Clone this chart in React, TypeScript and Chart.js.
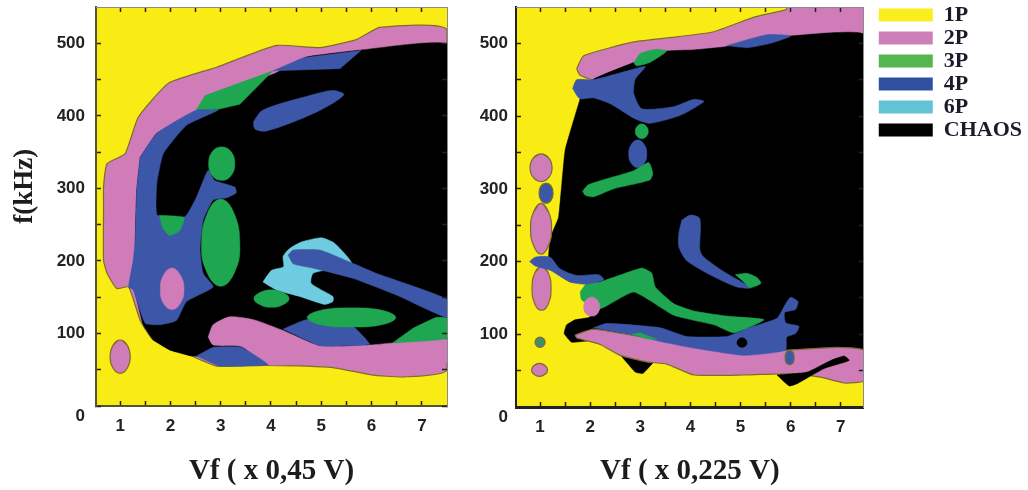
import React, { useEffect, useRef } from "react";
import { Chart, registerables } from "chart.js";

Chart.register(...registerables);

type P = [number, number];

const LEGEND_LABELS = ["1P", "2P", "3P", "4P", "6P", "CHAOS"];
const LEGEND_COLORS = ["#fbee1d", "#cd80b8", "#55b54f", "#31509f", "#62c3d5", "#000000"];
const YELLOW = "#f8ec14";
const PINK = "#cf7cb9";
const GREEN = "#1ea650";
const BLUE = "#3c57a8";
const CYAN = "#6fcbe0";
const BLACK = "#000000";
const OLIVE = "#7d6c2e";

const X_TICKS = [1, 1.5, 2, 2.5, 3, 3.5, 4, 4.5, 5, 5.5, 6, 6.5, 7];
const Y_TICKS = [0, 50, 100, 150, 200, 250, 300, 350, 400, 450, 500];

// ---------- Left panel ----------
const L_BG: P[] = [[0.52, 0], [7.5, 0], [7.5, 550], [0.52, 550]];
const L_2P_OUTER: P[] = [[0.67, 275], [0.67, 302], [0.74, 334], [1.1, 348], [1.36, 398], [1.96, 445], [2.92, 467], [4.11, 497], [4.97, 494], [5.7, 505], [6.16, 522], [7.5, 518], [7.5, 50], [6.62, 40], [5.99, 43], [5.23, 53], [3.91, 56], [2.92, 55], [2.39, 70], [1.66, 91], [1.4, 118], [1.17, 164], [0.93, 162], [0.74, 183], [0.67, 201]];
const L_CHAOS: P[] = [[1.4, 343], [1.73, 376], [2.52, 406], [2.75, 422], [4.1, 459], [4.7, 481], [5.83, 491], [7.5, 498], [7.5, 82], [3.91, 72], [2.85, 68], [2.42, 69], [1.99, 77], [1.66, 91], [1.46, 112], [1.26, 169], [1.3, 201], [1.3, 229], [1.33, 297]];
const L_2P_STRIP: P[] = [[2.75, 95], [2.85, 112], [3.18, 123], [3.65, 119], [4.24, 104], [4.97, 83], [5.96, 84], [6.42, 87], [7.5, 92], [7.5, 60], [5, 60], [3.94, 57], [3.41, 82], [2.85, 84]];
const L_4P_MAIN: P[] = [[1.4, 343], [1.73, 376], [2.52, 408], [2.95, 408], [2.32, 387], [1.86, 348], [1.73, 307], [1.74, 263], [2.29, 261], [2.52, 288], [2.75, 325], [2.88, 311], [3.28, 302], [3.31, 294], [3.12, 287], [2.85, 284], [2.65, 256], [2.59, 215], [2.65, 183], [2.85, 164], [2.32, 144], [2.12, 118], [1.79, 112], [1.5, 114], [1.26, 160], [1.17, 164], [1.26, 201], [1.3, 228], [1.33, 297]];
const L_4P_TOP: P[] = [[4.04, 462], [4.64, 480], [5.79, 490], [5.37, 465]];
const L_4P_STREAK: P[] = [[3.65, 392], [3.84, 408], [4.77, 428], [5.23, 435], [5.45, 429], [4.9, 405], [3.91, 379], [3.68, 382]];
const L_4P_LOW: P[] = [[2.52, 69], [2.85, 81], [3.41, 81], [3.94, 57], [2.98, 55]];
const L_4P_MID: P[] = [[4.24, 106], [4.7, 119], [5.63, 110], [5.96, 85], [4.97, 83]];
const L_6P: P[] = [[3.84, 171], [4.01, 187], [4.25, 192], [4.24, 206], [4.37, 217], [4.6, 226], [5, 232], [5.23, 226], [5.4, 215], [5.6, 196], [4.84, 183], [4.8, 169], [5.23, 151], [5.23, 144], [5.07, 140], [4.57, 151], [4.11, 160]];
const L_4P_LONG: P[] = [[4.34, 208], [4.44, 215], [4.97, 215], [5.65, 196], [6.09, 183], [7.5, 147], [7.5, 122], [6.56, 151], [5.63, 176], [4.84, 190], [4.44, 196]];
const L_3P_WEDGE: P[] = [[2.52, 409], [2.69, 428], [4.04, 462], [3.38, 416], [2.95, 409]];
const L_3P_OVAL: P[] = [[3.02, 357], [3.2, 351], [3.28, 334], [3.2, 317], [3.02, 311], [2.84, 317], [2.76, 334], [2.84, 351]];
const L_3P_BIG: P[] = [[3, 285], [3.25, 268], [3.38, 225], [3.28, 185], [3, 165], [2.72, 185], [2.62, 225], [2.75, 268]];
const L_3P_NOTCH: P[] = [[1.78, 263], [2.27, 260], [2.19, 242], [1.98, 235], [1.85, 245]];
const L_3P_SMALL: P[] = [[4.01, 160], [4.25, 156], [4.36, 148], [4.25, 140], [4.01, 136], [3.77, 140], [3.66, 148], [3.77, 156]];
const L_3P_LONG: P[] = [[5.6, 135], [6.2, 132], [6.48, 122], [6.2, 112], [5.6, 109], [5, 112], [4.72, 122], [5, 132]];
const L_3P_RIGHT: P[] = [[6.42, 87], [6.82, 107], [7.28, 122], [7.5, 121], [7.5, 93]];
const L_2P_ISLE: P[] = [[2.03, 190], [2.2, 180], [2.27, 161], [2.2, 142], [2.03, 133], [1.86, 142], [1.8, 161], [1.86, 180]];
const L_2P_DOT: P[] = [[1, 91], [1.14, 84], [1.2, 68], [1.14, 52], [1, 45], [0.86, 52], [0.8, 68], [0.86, 84]];

// ---------- Right panel ----------
const R_BG: P[] = [[0.52, 0], [7.46, 0], [7.46, 550], [0.52, 550]];
const R_2P_TOP: P[] = [[1.73, 465], [1.87, 483], [2.87, 502], [3.73, 509], [4.47, 516], [5.27, 536], [5.9, 546], [5.95, 550], [7.46, 550], [7.46, 513], [6, 510], [4.67, 494], [4.07, 490], [3.47, 488], [2.87, 472], [2.07, 450], [1.8, 456]];
const R_CHAOS: P[] = [[1.8, 424], [2.07, 451], [3.47, 489], [4.07, 491], [4.67, 495], [6, 510], [7.46, 512], [7.46, 78], [5.9, 78], [5.07, 71], [3.53, 83], [3.27, 62], [3.05, 46], [2.9, 48], [2.47, 81], [2.03, 91], [1.63, 89], [1.48, 101], [1.53, 113], [1.7, 120], [1.97, 123], [2.2, 135], [2.07, 170], [1.6, 172], [1.2, 190], [1.17, 206], [1.2, 232], [1.37, 261], [1.5, 353]];
const R_2P_LOW: P[] = [[1.7, 99], [2.07, 107], [3.4, 92], [5.07, 74], [5.9, 78], [6.93, 82], [7.46, 78], [7.46, 36], [7.07, 33], [6.6, 41], [6.07, 46], [5.07, 44], [4.07, 44], [3.53, 59], [3.13, 62], [2.6, 71], [2.2, 86], [1.73, 95]];
const R_CHAOS_TAIL: P[] = [[5.73, 44], [5.97, 29], [6.13, 32], [6.67, 53], [7.17, 64], [7.07, 70], [6.8, 64], [6.33, 48]];
const R_4P_LOW: P[] = [[2.07, 109], [2.33, 115], [3.4, 109], [3.93, 97], [4.73, 97], [5.13, 108], [5.73, 122], [5.9, 142], [6, 151], [6.15, 145], [6.1, 134], [5.88, 130], [5.9, 116], [6.17, 111], [6.1, 101], [5.92, 96], [5.9, 78], [5.07, 71], [4.07, 81], [3.4, 90], [2.87, 99]];
const R_3P_SLIVER: P[] = [[2.83, 100], [3, 102], [3.33, 93], [3.13, 94]];
const R_CHAOS_DOT: P[] = [[5.03, 95], [5.1, 93], [5.13, 88], [5.1, 84], [5.03, 82], [4.96, 84], [4.93, 88], [4.96, 93]];
const R_4P_SPOT: P[] = [[5.98, 78], [6.05, 75], [6.07, 68], [6.05, 61], [5.98, 58], [5.91, 61], [5.89, 68], [5.91, 75]];
const R_3P_MID: P[] = [[1.8, 158], [1.93, 170], [2.2, 172], [3.03, 191], [3.23, 184], [3.3, 165], [3.67, 142], [4.07, 132], [4.73, 125], [5.47, 120], [4.87, 102], [4.47, 113], [3.67, 126], [2.87, 158], [2.2, 135], [1.83, 147]];
const R_2P_CIRCLE: P[] = [[2.03, 151], [2.14, 147], [2.19, 138], [2.14, 128], [2.03, 125], [1.92, 128], [1.87, 138], [1.92, 147]];
const R_2P_E1: P[] = [[1.02, 348], [1.18, 342], [1.24, 329], [1.18, 316], [1.02, 310], [0.86, 316], [0.8, 329], [0.86, 342]];
const R_2P_E3: P[] = [[1.02, 280], [1.17, 268], [1.23, 245], [1.17, 222], [1.02, 210], [0.87, 222], [0.81, 245], [0.87, 268]];
const R_2P_E4: P[] = [[1.03, 193], [1.16, 185], [1.22, 163], [1.16, 141], [1.03, 133], [0.9, 141], [0.84, 163], [0.9, 185]];
const R_4P_BAND: P[] = [[0.79, 200], [0.9, 206], [1.2, 206], [1.4, 190], [1.73, 181], [2.17, 182], [2.27, 175], [1.93, 169], [1.6, 172], [1.2, 188], [0.9, 194]];
const R_4P_E2: P[] = [[1.12, 308], [1.22, 304], [1.26, 294], [1.22, 284], [1.12, 280], [1.02, 284], [0.98, 294], [1.02, 304]];
const R_3P_DOT: P[] = [[1, 96], [1.07, 94], [1.1, 89], [1.07, 84], [1, 82], [0.93, 84], [0.9, 89], [0.93, 94]];
const R_2P_DOT: P[] = [[0.99, 60], [1.1, 57], [1.15, 51], [1.1, 45], [0.99, 42], [0.88, 45], [0.83, 51], [0.88, 57]];
const R_3P_TOP: P[] = [[2.87, 473], [3, 486], [3.33, 492], [3.52, 489], [3.2, 474], [2.93, 469]];
const R_4P_UPPER: P[] = [[1.65, 438], [1.73, 450], [2.07, 450], [2.73, 462], [3.1, 468], [2.9, 451], [2.87, 431], [3.03, 410], [3.67, 413], [4.07, 423], [4.27, 420], [3.8, 401], [3.2, 390], [2.9, 396], [2.4, 417], [2.07, 425], [1.79, 424]];
const R_4P_TOP: P[] = [[4.73, 497], [5.53, 512], [6, 510], [5.6, 500], [5.13, 494]];
const R_3P_CIRCLE: P[] = [[3.03, 389], [3.12, 386], [3.16, 379], [3.12, 372], [3.03, 369], [2.94, 372], [2.9, 379], [2.94, 386]];
const R_4P_OVAL: P[] = [[2.95, 367], [3.08, 361], [3.13, 348], [3.08, 335], [2.95, 329], [2.82, 335], [2.77, 348], [2.82, 361]];
const R_3P_STREAK: P[] = [[1.85, 297], [1.97, 306], [2.87, 325], [3.17, 336], [3.25, 321], [3.19, 312], [2.47, 300], [2.07, 289], [1.9, 291]];
const R_4P_CURVE: P[] = [[3.83, 257], [4, 264], [4.19, 259], [4.19, 216], [4.27, 206], [4.67, 186], [5.2, 164], [4.93, 165], [4.47, 179], [3.93, 201], [3.77, 220], [3.77, 239]];
const R_3P_SMALL: P[] = [[4.9, 182], [5.13, 184], [5.33, 178], [5.41, 170], [5.19, 164], [5.05, 173]];

function shape(label: string, pts: P[], color: string, outline = false, tension = 0.3) {
  return {
    label,
    data: [...pts, pts[0]].map(([x, y]) => ({ x, y })),
    showLine: true,
    fill: "shape",
    backgroundColor: color,
    borderColor: outline ? OLIVE : color,
    borderWidth: outline ? 1.2 : 0.5,
    pointRadius: 0,
    tension,
    xAxisID: "x",
    yAxisID: "y",
  };
}

// A convex oval: the path laps its start, so the curve has no kink where it closes.
function oval(label: string, pts: P[], color: string, outline = false) {
  const lap: P[] = [pts[pts.length - 1], ...pts, pts[0], pts[1]];
  return { ...shape(label, pts, color, outline, 0.45), data: lap.map(([x, y]) => ({ x, y })) };
}

// Back-to-front order; Chart.js paints the first dataset last, so the list is reversed.
const LEFT_SHAPES = [
  shape("1P", L_BG, YELLOW, false, 0),
  shape("2P", L_2P_OUTER, PINK, true, 0.15),
  shape("CHAOS", L_CHAOS, BLACK, false, 0.1),
  shape("2P", L_2P_STRIP, PINK, false, 0.2),
  shape("4P", L_4P_MAIN, BLUE, false, 0.15),
  shape("4P", L_4P_TOP, BLUE, false, 0),
  shape("4P", L_4P_STREAK, BLUE),
  shape("4P", L_4P_LOW, BLUE, false, 0.1),
  shape("4P", L_4P_MID, BLUE, false, 0.1),
  shape("6P", L_6P, CYAN, false, 0.2),
  shape("4P", L_4P_LONG, BLUE, false, 0.15),
  shape("3P", L_3P_WEDGE, GREEN, false, 0),
  oval("3P", L_3P_OVAL, GREEN),
  oval("3P", L_3P_BIG, GREEN),
  shape("3P", L_3P_NOTCH, GREEN, false, 0.15),
  oval("3P", L_3P_SMALL, GREEN),
  oval("3P", L_3P_LONG, GREEN),
  shape("3P", L_3P_RIGHT, GREEN, false, 0.1),
  oval("2P", L_2P_ISLE, PINK),
  oval("2P", L_2P_DOT, PINK, true),
];

const RIGHT_SHAPES = [
  shape("1P", R_BG, YELLOW, false, 0),
  shape("2P", R_2P_TOP, PINK, true, 0.15),
  shape("CHAOS", R_CHAOS, BLACK, false, 0.1),
  shape("2P", R_2P_LOW, PINK, true, 0.15),
  shape("CHAOS", R_CHAOS_TAIL, BLACK, false, 0.15),
  shape("4P", R_4P_LOW, BLUE, false, 0.15),
  shape("3P", R_3P_SLIVER, GREEN, false, 0),
  oval("CHAOS", R_CHAOS_DOT, BLACK),
  oval("4P", R_4P_SPOT, BLUE, true),
  shape("3P", R_3P_MID, GREEN, false, 0.15),
  oval("2P", R_2P_CIRCLE, PINK),
  oval("2P", R_2P_E1, PINK, true),
  oval("2P", R_2P_E3, PINK, true),
  oval("2P", R_2P_E4, PINK, true),
  shape("4P", R_4P_BAND, BLUE, false, 0.25),
  oval("4P", R_4P_E2, BLUE, true),
  oval("3P", R_3P_DOT, "#3f8f6a", true),
  oval("2P", R_2P_DOT, PINK, true),
  shape("3P", R_3P_TOP, GREEN, false, 0.2),
  shape("4P", R_4P_UPPER, BLUE, false, 0.2),
  shape("4P", R_4P_TOP, BLUE, false, 0.2),
  oval("3P", R_3P_CIRCLE, GREEN),
  oval("4P", R_4P_OVAL, BLUE),
  shape("3P", R_3P_STREAK, GREEN, false, 0.2),
  shape("4P", R_4P_CURVE, BLUE, false, 0.25),
  shape("3P", R_3P_SMALL, GREEN, false, 0.2),
];

const SANS = "'Liberation Sans', Arial, sans-serif";
const SERIF = "'Liberation Serif', 'Times New Roman', serif";
const TICK = "#222222";

function noPad(s: any) {
  s.paddingTop = 0;
  s.paddingBottom = 0;
  s.paddingLeft = 0;
  s.paddingRight = 0;
}

function axes(opts: {
  xMax: number;
  xTitle: string;
  yTitle?: string;
  yWidth: number;
  yPad: number;
  xHeight: number;
  frame: string;
  bottomWidth: number;
  rightWidth: number;
  topHeight: number;
}) {
  const xTicks = (s: any) => { s.ticks = X_TICKS.map((value) => ({ value })); };
  const yTicks = (s: any) => { s.ticks = Y_TICKS.map((value) => ({ value })); };
  const grid = { drawOnChartArea: false, drawTicks: true, tickLength: -5, tickColor: TICK, tickWidth: 1.5, z: 1 };
  return {
    x: {
      type: "linear", position: "bottom", min: 0.52, max: opts.xMax,
      afterBuildTicks: xTicks,
      afterFit: (s: any) => { s.height = opts.xHeight; noPad(s); },
      grid,
      border: { color: opts.frame, width: opts.bottomWidth, z: 1 },
      ticks: {
        autoSkip: false, maxRotation: 0, minRotation: 0, padding: 15, color: "#222222",
        font: { family: SANS, size: 17, weight: "bold" },
        callback: (v: number) => (Number.isInteger(v) ? String(v) : ""),
      },
      title: {
        display: true, text: opts.xTitle, color: "#1c1c1c",
        font: { family: SERIF, size: 29, weight: "bold" },
        padding: { top: 0, bottom: 1 },
      },
    },
    y: {
      type: "linear", position: "left", min: 0, max: 550,
      afterBuildTicks: yTicks,
      afterFit: (s: any) => { s.width = opts.yWidth; noPad(s); },
      grid,
      border: { color: opts.frame, width: 2, z: 1 },
      ticks: {
        autoSkip: false, padding: opts.yPad, color: "#222222",
        font: { family: SANS, size: 17, weight: "bold" },
        callback: (v: number) => (v === 0 ? ["", "0"] : v % 100 === 0 ? String(v) : ""),
      },
      title: opts.yTitle
        ? {
            display: true, text: opts.yTitle, color: "#1c1c1c",
            font: { family: SERIF, size: 27, weight: "bold" },
            padding: { top: 9, bottom: 0 },
          }
        : { display: false },
    },
    x2: {
      type: "linear", position: "top", min: 0.52, max: opts.xMax,
      afterBuildTicks: xTicks,
      afterFit: (s: any) => { s.height = opts.topHeight; noPad(s); },
      grid,
      border: { color: "#8a8a8a", width: 1, z: 1 },
      ticks: { display: false },
    },
    y2: {
      type: "linear", position: "right", min: 0, max: 550,
      afterBuildTicks: yTicks,
      afterFit: (s: any) => { s.width = opts.rightWidth; noPad(s); },
      grid,
      border: { color: "#8a8a8a", width: 1, z: 1 },
      ticks: { display: false },
    },
  };
}

export default function App() {
  const leftRef = useRef<HTMLCanvasElement>(null);
  const rightRef = useRef<HTMLCanvasElement>(null);

  useEffect(() => {
    const left = new Chart(leftRef.current!, {
      type: "scatter",
      data: { datasets: [...LEFT_SHAPES].reverse() as any },
      options: {
        animation: false, responsive: false, events: [],
        layout: { autoPadding: false, padding: { top: 0, right: 13, bottom: 0, left: 0 } },
        plugins: { legend: { display: false }, tooltip: { enabled: false } },
        scales: axes({
          xMax: 7.5, xTitle: "Vf ( x 0,45 V)", yTitle: "      f(kHz)",
          yWidth: 96, yPad: 16, xHeight: 84, frame: "#55532f", bottomWidth: 2, rightWidth: 0, topHeight: 7,
        }) as any,
      },
    });
    const right = new Chart(rightRef.current!, {
      type: "scatter",
      data: { datasets: [...RIGHT_SHAPES].reverse() as any },
      options: {
        animation: false, responsive: false, events: [],
        layout: { autoPadding: false, padding: { top: 3, right: 0, bottom: 0, left: 0 } },
        plugins: {
          tooltip: { enabled: false },
          legend: {
            display: true, position: "right", align: "start", maxWidth: 200,
            labels: {
              boxWidth: 54, boxHeight: 13, padding: 1, color: "#1a1a2a",
              font: { family: SERIF, size: 22, weight: "bold" },
              generateLabels: () =>
                LEGEND_LABELS.map((text, i) => ({
                  text, fillStyle: LEGEND_COLORS[i], strokeStyle: LEGEND_COLORS[i], lineWidth: 0, hidden: false, fontColor: "#1a1a2a",
                })),
            },
          },
        },
        scales: axes({
          xMax: 7.46, xTitle: "Vf ( x 0,225 V)",
          yWidth: 56, yPad: 13, xHeight: 83, frame: "#222222", bottomWidth: 3, rightWidth: 14, topHeight: 4,
        }) as any,
      },
    });
    return () => { left.destroy(); right.destroy(); };
  }, []);

  const base: React.CSSProperties = { position: "absolute", top: 0, filter: "blur(0.5px)" };
  return (
    <div style={{ position: "fixed", left: 0, top: 0, width: 1028, height: 490, background: "#fff", overflow: "hidden" }}>
      <canvas ref={leftRef} width={460} height={490} style={{ ...base, left: 0, width: 460, height: 490 }} />
      <canvas ref={rightRef} width={572} height={490} style={{ ...base, left: 460, width: 572, height: 490 }} />
    </div>
  );
}
